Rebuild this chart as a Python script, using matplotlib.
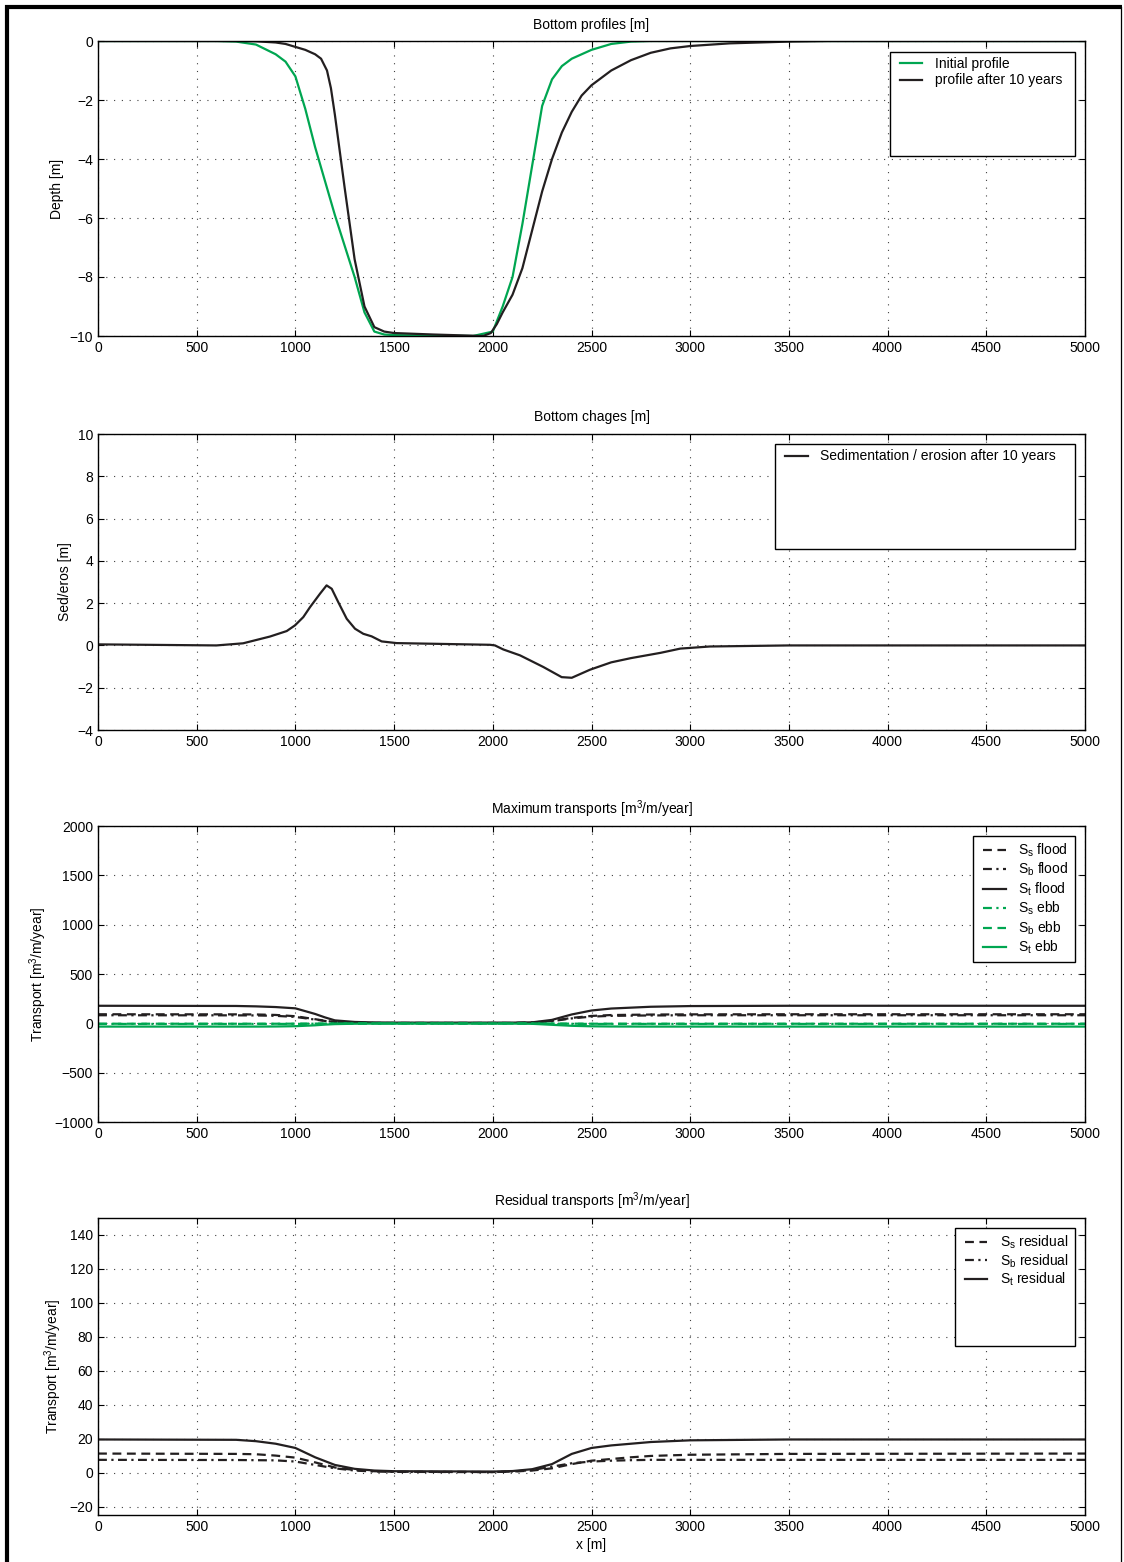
import matplotlib
matplotlib.use("Agg")
import matplotlib.pyplot as plt
from matplotlib.lines import Line2D
from matplotlib.patches import Rectangle

plt.rcParams['font.family'] = ['Liberation Sans', 'DejaVu Sans']
plt.rcParams['mathtext.fontset'] = 'custom'
plt.rcParams['mathtext.rm'] = 'Liberation Sans'

GREEN = '#00a651'

# ---------------- Panel 1: bottom profiles ----------------
x_init = [0, 600, 700, 800, 900, 950, 1000, 1050, 1100, 1200, 1300, 1350, 1400, 1450, 1500, 1900,
          2000, 2050, 2100, 2150, 2200, 2250, 2300, 2350, 2400, 2500, 2600, 2700, 2800, 5000]
d_init = [0, 0, -0.02, -0.12, -0.45, -0.7, -1.2, -2.3, -3.6, -5.9, -8.0, -9.2, -9.85, -9.95, -9.97, -10.0,
          -9.85, -9.0, -8.0, -6.2, -4.2, -2.2, -1.3, -0.85, -0.6, -0.3, -0.1, -0.02, 0, 0]

x_after = [0, 700, 800, 900, 950, 1000, 1050, 1100, 1130, 1160, 1180, 1200, 1250, 1300, 1350, 1400, 1450,
           1500, 1700, 1950, 1990, 2020, 2050, 2100, 2150, 2200, 2250, 2300, 2350, 2400, 2450, 2500,
           2600, 2700, 2800, 2900, 3000, 3200, 3500, 3700, 5000]
d_after = [0, 0, -0.01, -0.05, -0.1, -0.2, -0.3, -0.45, -0.6, -1.0, -1.6, -2.5, -5.0, -7.4, -9.0, -9.7, -9.85,
           -9.9, -9.95, -10.0, -9.9, -9.6, -9.2, -8.6, -7.7, -6.4, -5.1, -4.0, -3.1, -2.4, -1.85, -1.5,
           -1.0, -0.65, -0.4, -0.25, -0.17, -0.08, -0.02, 0, 0]

# ---------------- Panel 2: bottom changes ----------------
x_sed = [0, 600, 735, 871, 956, 998, 1040, 1074, 1125, 1158, 1184, 1217, 1260, 1302, 1344, 1386, 1437,
         1513, 1986, 2011, 2053, 2138, 2256, 2349, 2400, 2492, 2600, 2700, 2850, 2950, 3100, 3500, 5000]
sed = [0.05, 0, 0.1, 0.42, 0.68, 0.95, 1.34, 1.81, 2.45, 2.84, 2.68, 2.05, 1.26, 0.79, 0.55, 0.43, 0.19,
       0.11, 0.03, 0, -0.19, -0.47, -1.02, -1.5, -1.53, -1.15, -0.8, -0.6, -0.35, -0.15, -0.05, 0, 0]

# ---------------- Panel 3: maximum transports ----------------
x_tr = [0, 700, 800, 900, 1000, 1100, 1150, 1200, 1300, 1400, 1500, 1800, 2100, 2200, 2300, 2400, 2500,
        2600, 2800, 3000, 3500, 5000]
st_flood = [178, 176, 172, 165, 152, 95, 60, 30, 14, 9, 7, 7, 7, 10, 35, 90, 130, 150, 168, 175, 178, 178]
ss_flood = [92, 91, 90, 85, 72, 42, 26, 14, 6, 4, 4, 4, 4, 8, 25, 55, 75, 84, 89, 91, 92, 92]
sb_flood = [82, 81, 80, 76, 65, 38, 24, 13, 5, 3, 3, 3, 3, 7, 22, 50, 68, 76, 80, 82, 82, 82]
ss_ebb = [-6, -6, -6, -6, -5.5, -4, -3, -2, -1, -1, -1, -1, -1, -1.5, -3, -5, -6, -6, -6, -6, -6, -6]
sb_ebb = [-4, -4, -4, -4, -3.5, -3, -2, -1.5, -1, -1, -1, -1, -1, -1.2, -2, -3.5, -4, -4, -4, -4, -4, -4]
st_ebb = [-33, -33, -33, -32, -29, -20, -13, -8, -4, -3, -3, -3, -3, -5, -15, -25, -30, -32, -33, -33, -33, -33]

# ---------------- Panel 4: residual transports ----------------
x_res = [0, 700, 800, 900, 1000, 1100, 1200, 1300, 1400, 1500, 2000, 2100, 2200, 2300, 2400, 2500,
         2600, 2700, 2800, 3000, 3500, 5000]
st_res = [19.5, 19.3, 18.5, 17, 14.5, 9, 4.5, 2.2, 1.2, 0.8, 0.6, 0.9, 2, 5, 11, 14.5, 16, 17, 18, 19, 19.5, 19.5]
ss_res = [11.2, 11, 10.8, 10, 8.8, 6, 3, 1.5, 0.8, 0.5, 0.3, 0.6, 1.2, 2.5, 5, 7, 8, 9, 9.8, 10.5, 11, 11.2]
sb_res = [7.5, 7.4, 7.3, 7.2, 6.5, 4.5, 2.5, 1.2, 0.6, 0.4, 0.3, 0.6, 1.5, 3.5, 5.5, 6.5, 7, 7.3, 7.5, 7.5, 7.5, 7.5]

xticks = list(range(0, 5001, 500))

fig = plt.figure(figsize=(11.24, 15.62), dpi=100)
L, W = 98 / 1124, 987 / 1124
tops = [41, 434, 826, 1218]
bots = [336, 730, 1122, 1515]
axes = []
for t, b in zip(tops, bots):
    ax = fig.add_axes([L, 1 - b / 1562, W, (b - t) / 1562])
    axes.append(ax)

LW = 1.6
DASH = (4, 2.5)
DASHDOT = (4, 2, 1, 2)


def style(ax, ylim, yticks, title, ylabel):
    ax.set_xlim(0, 5000)
    ax.set_ylim(*ylim)
    ax.set_xticks(xticks)
    ax.set_yticks(yticks)
    ax.grid(True, color='0.25', linestyle=(0, (1, 6)), linewidth=0.8)
    ax.tick_params(direction='in', top=True, right=True, length=4, labelsize=10, width=0.8)
    for s in ax.spines.values():
        s.set_linewidth(1.0)
    ax.set_title(title, fontsize=10, pad=9)
    ax.set_ylabel(ylabel, fontsize=10)


def legend_box(ax, handles, labels, box, spacing=0.3):
    x0, y0, x1, y1 = box
    ax.add_patch(Rectangle((x0, y0), x1 - x0, y1 - y0, transform=ax.transAxes,
                           facecolor='white', edgecolor='black', linewidth=1.0, zorder=4.5, clip_on=False))
    leg = ax.legend(handles, labels, loc='upper left', bbox_to_anchor=(x0 + 0.002, y1 + 0.01),
                    frameon=False, fontsize=10, handlelength=1.6, handletextpad=0.9,
                    labelspacing=spacing, borderaxespad=0.2)
    leg.set_zorder(5)


# Panel 1
ax = axes[0]
l1, = ax.plot(x_init, d_init, color=GREEN, lw=LW, label='Initial profile')
l2, = ax.plot(x_after, d_after, color='#231f20', lw=LW, label='profile after 10 years')
style(ax, (-10, 0), [-10, -8, -6, -4, -2, 0], 'Bottom profiles [m]', 'Depth [m]')
legend_box(ax, [l1, l2], ['Initial profile', 'profile after 10 years'], (0.802, 0.610, 0.990, 0.963), 0.15)

# Panel 2
ax = axes[1]
l1, = ax.plot(x_sed, sed, color='#231f20', lw=LW)
style(ax, (-4, 10), [-4, -2, 0, 2, 4, 6, 8, 10], 'Bottom chages [m]', 'Sed/eros [m]')
legend_box(ax, [l1], ['Sedimentation / erosion after 10 years'], (0.686, 0.611, 0.990, 0.966))

# Panel 3
ax = axes[2]
h1, = ax.plot(x_tr, ss_flood, color='#231f20', lw=LW, dashes=DASH)
h2, = ax.plot(x_tr, sb_flood, color='#231f20', lw=LW, dashes=DASHDOT)
h3, = ax.plot(x_tr, st_flood, color='#231f20', lw=LW)
h4, = ax.plot(x_tr, ss_ebb, color=GREEN, lw=LW, dashes=DASHDOT)
h5, = ax.plot(x_tr, sb_ebb, color=GREEN, lw=LW, dashes=DASH)
h6, = ax.plot(x_tr, st_ebb, color=GREEN, lw=LW)
style(ax, (-1000, 2000), [-1000, -500, 0, 500, 1000, 1500, 2000],
      r'Maximum transports [m$^3$/m/year]', r'Transport [m$^3$/m/year]')
legend_box(ax, [h1, h2, h3, h4, h5, h6],
           [r'S$_\mathregular{s}$ flood', r'S$_\mathregular{b}$ flood', r'S$_\mathregular{t}$ flood',
            r'S$_\mathregular{s}$ ebb', r'S$_\mathregular{b}$ ebb', r'S$_\mathregular{t}$ ebb'],
           (0.8865, 0.541, 0.990, 0.966), 0.15)

# Panel 4
ax = axes[3]
r1, = ax.plot(x_res, ss_res, color='#231f20', lw=LW, dashes=DASH)
r2, = ax.plot(x_res, sb_res, color='#231f20', lw=LW, dashes=DASHDOT)
r3, = ax.plot(x_res, st_res, color='#231f20', lw=LW)
style(ax, (-25, 150), [-20, 0, 20, 40, 60, 80, 100, 120, 140],
      r'Residual transports [m$^3$/m/year]', r'Transport [m$^3$/m/year]')
ax.set_xlabel('x [m]', fontsize=10, labelpad=3)
legend_box(ax, [r1, r2, r3],
           [r'S$_\mathregular{s}$ residual', r'S$_\mathregular{b}$ residual', r'S$_\mathregular{t}$ residual'],
           (0.868, 0.569, 0.990, 0.966), 0.1)

# Figure border
fig.add_artist(Line2D([7 / 1124, 7 / 1124], [0, 1 - 5 / 1562], transform=fig.transFigure,
                      color='black', lw=3.0, solid_capstyle='butt'))
fig.add_artist(Line2D([5 / 1124, 1122 / 1124], [1 - 7 / 1562, 1 - 7 / 1562], transform=fig.transFigure,
                      color='black', lw=3.0, solid_capstyle='butt'))
fig.add_artist(Line2D([1121 / 1124, 1121 / 1124], [0, 1 - 7 / 1562], transform=fig.transFigure,
                      color='black', lw=0.9))

fig.savefig('out.png', dpi=100)
